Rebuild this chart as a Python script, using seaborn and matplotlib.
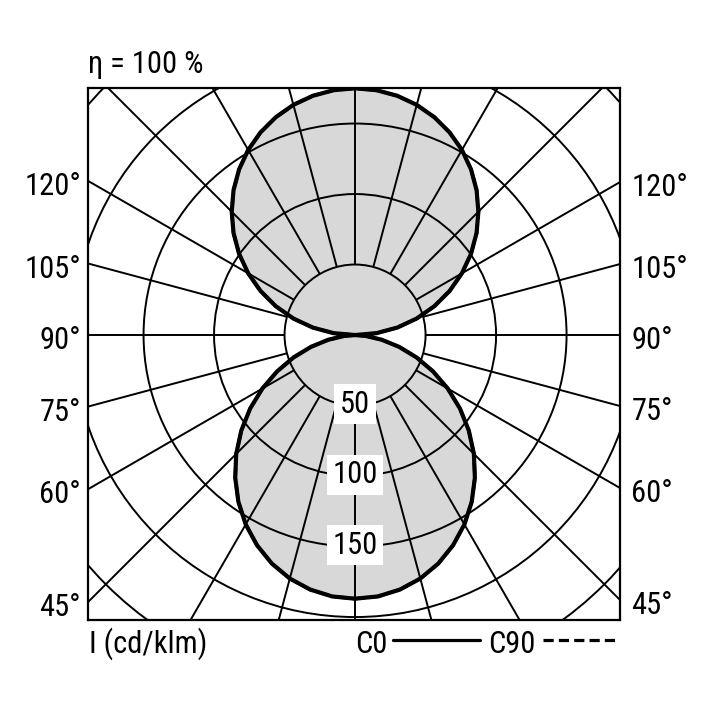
import numpy as np
import pandas as pd
import seaborn as sns
import matplotlib.pyplot as plt
from matplotlib.patches import Circle
from matplotlib.lines import Line2D

# luminous intensity (cd/klm), gamma from nadir
gamma_down = [0, 5, 10, 15, 20, 25, 30, 35, 40, 45, 50, 55, 60, 65, 70, 75, 80, 85, 90]
i_down = [187, 186.1, 183.3, 178.8, 172.5, 164.5, 155.1, 144.3, 132.2, 119.2,
          105.3, 90.8, 75.9, 61.0, 46.4, 32.3, 19.2, 7.8, 0]
gamma_up = [90, 95, 100, 105, 110, 115, 120, 125, 130, 135, 140, 145, 150,
            155, 160, 165, 170, 175, 180]
i_up = [0, 15.3, 30.4, 45.3, 59.9, 74.0, 87.5, 100.4, 112.5, 123.7, 134.1,
        143.4, 151.6, 158.6, 164.4, 169.0, 172.3, 174.3, 175]

ring_values = [50, 100, 150, 200, 250, 300]
ring_labels = ['50', '100', '150']
angle_ticks = [45, 60, 75, 90, 105, 120]
title_text = 'η = 100 %'
unit_text = 'I (cd/klm)'
planes = ['C0', 'C90']

sns.set_theme(style='white')
plt.rcParams['font.family'] = ['Roboto Condensed', 'Liberation Sans', 'DejaVu Sans']
plt.rcParams['text.color'] = 'black'
FS = 22

# one half profile 0..180, mirrored to the other side
half_g = gamma_down + gamma_up[1:]
half_i = i_down + i_up[1:]
full_g = [-g for g in half_g[::-1]] + half_g[1:]
full_i = half_i[::-1] + half_i[1:]
rad = np.radians(full_g)
df = pd.DataFrame({'gamma': full_g, 'I': full_i})
df['x'] = df['I'] * np.sin(rad)
df['y'] = -df['I'] * np.cos(rad)

W = 708
fig = plt.figure(figsize=(7.08, 7.08), dpi=100)
ax = fig.add_axes([88 / W, 88 / W, 532 / W, 532 / W])
xl, xr = -189.4, 187.9
yb, yt = -202.1, 175.2
ax.set_xlim(xl, xr)
ax.set_ylim(yb, yt)
ax.set_xticks([])
ax.set_yticks([])
for s in ax.spines.values():
    s.set_linewidth(1.6)
    s.set_color('black')
    s.set_zorder(6)

# lobes
ax.fill(df['x'], df['y'], color='#d8d8d8', lw=0, zorder=1)

# grid
for r in ring_values:
    ax.add_patch(Circle((0, 0), r, fill=False, ec='black', lw=1.4, zorder=2))
for a in range(0, 360, 15):
    t = np.radians(a)
    ax.plot([50 * np.sin(t), 450 * np.sin(t)], [-50 * np.cos(t), -450 * np.cos(t)],
            color='black', lw=1.4, zorder=2, solid_capstyle='butt')

# curves
sns.lineplot(data=df, x='x', y='y', sort=False, estimator=None, ax=ax,
             color='black', lw=2.4, linestyle='--', zorder=3)
sns.lineplot(data=df, x='x', y='y', sort=False, estimator=None, ax=ax,
             color='black', lw=3.0, zorder=4)
ax.set_xlabel('')
ax.set_ylabel('')

# ring labels
for lab in ring_labels:
    ax.text(0, -float(lab) + 1, lab, ha='center', va='center', fontsize=FS,
            zorder=5, bbox=dict(fc='white', ec='none', pad=4))

# angle labels
for g in angle_ticks:
    tg = np.tan(np.radians(g))
    ax.text(xl - 5, xl / tg - 4, f'{g}°', ha='right', va='center', fontsize=FS, clip_on=False)
    ax.text(xr + 8, -xr / tg - 4, f'{g}°', ha='left', va='center', fontsize=FS, clip_on=False)

fig.text(88 / W, 1 - 73 / W, title_text, ha='left', va='baseline', fontsize=FS)
fig.text(89 / W, 1 - 653 / W, unit_text, ha='left', va='baseline', fontsize=FS)
fig.text(355 / W, 1 - 653 / W, planes[0], ha='left', va='baseline', fontsize=FS)
fig.text(488 / W, 1 - 653 / W, planes[1], ha='left', va='baseline', fontsize=FS)
fig.add_artist(Line2D([393 / W, 480 / W], [1 - 640 / W, 1 - 640 / W], color='black', lw=2.3))
fig.add_artist(Line2D([543 / W, 618 / W], [1 - 640 / W, 1 - 640 / W], color='black', lw=2.3,
                      dashes=(3.2, 1.6)))

fig.savefig('out.png', dpi=100)
